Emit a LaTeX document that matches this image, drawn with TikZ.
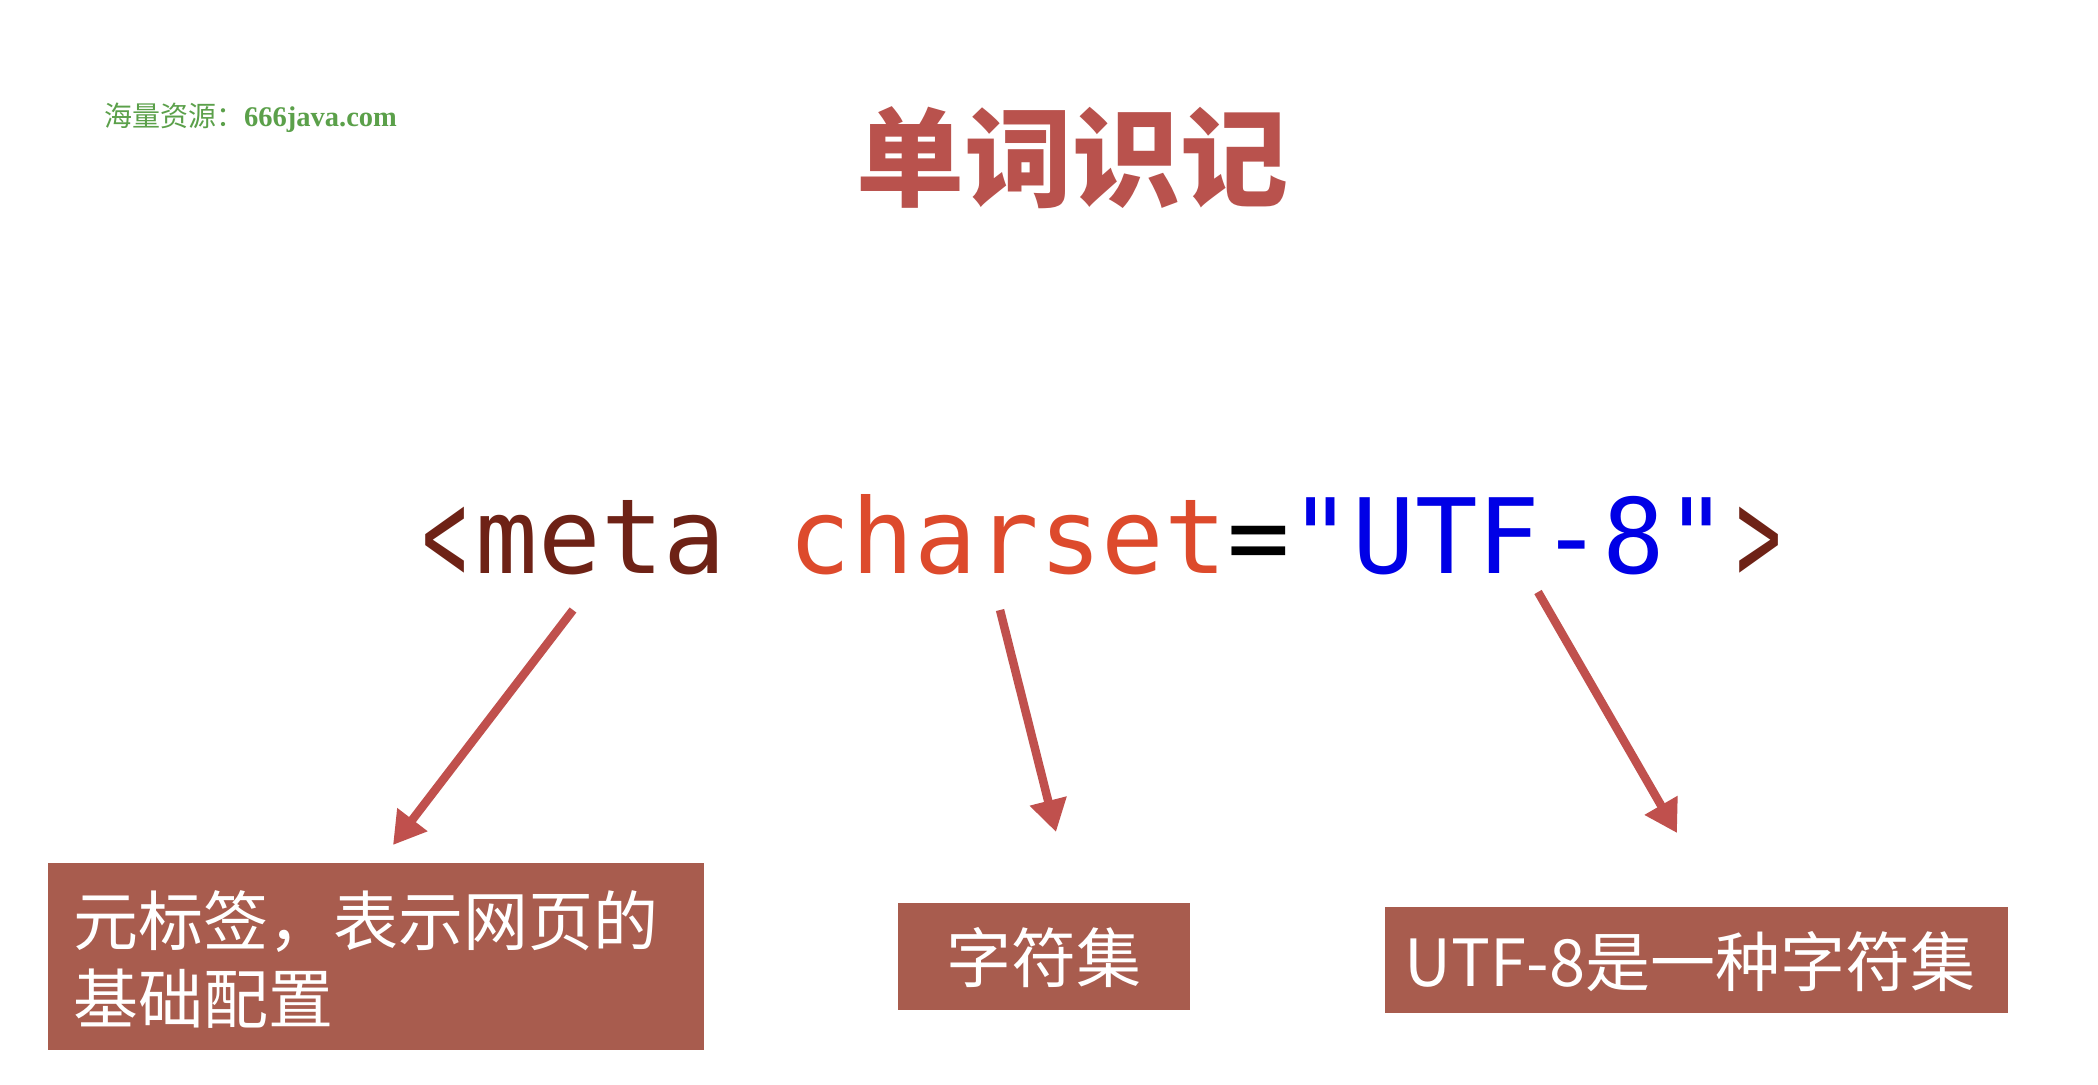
\documentclass[tikz,border=0pt]{standalone}
\usepackage{fontspec}
\usepackage{graphicx}
\usetikzlibrary{arrows.meta}
\newfontfamily\cjk{Noto Sans CJK SC}
\newfontfamily\codefont[Ligatures=TeXOff]{DejaVu Sans Mono}
\newfontfamily\wmfont{Liberation Serif}
\definecolor{accent}{HTML}{C0504D}
\definecolor{titlec}{HTML}{B9524D}
\definecolor{boxfill}{HTML}{A85C4E}
\definecolor{metac}{HTML}{6E2216}
\definecolor{charc}{HTML}{DD4A2C}
\definecolor{utfc}{HTML}{0000E6}
\definecolor{wm}{HTML}{5BA04A}
\newcommand{\chev}[1]{\makebox[0.602em]{\raisebox{-0.09em}{\scalebox{0.72}[1.3]{#1}}}}
\tikzset{
  pointer/.style={draw=accent, line width=8.5pt, -{Triangle[length=32pt,width=36pt]}},
  box/.style={fill=boxfill, draw=none, inner sep=0pt, anchor=north west},
  boxtext/.style={text=white, inner sep=0pt, font=\cjk\fontsize{65}{78}\selectfont},
}
\begin{document}
\begin{tikzpicture}[x=1pt,y=-1pt]
\useasboundingbox (0,0) rectangle (2098,1084);
\fill[white] (0,0) rectangle (2098,1084);

% watermark
\node[anchor=base west, inner sep=0pt, text=wm] (wm) at (104,126)
  {\cjk\fontsize{28}{30}\selectfont 海量资源：\wmfont\bfseries\fontsize{28.5}{30}\selectfont 666java.com};

% title
\node[anchor=base, inner sep=0pt, text=titlec] (title) at (1072,198)
  {\cjk\bfseries\fontsize{108}{120}\selectfont 单词识记};

% code line
\node[anchor=base, inner sep=0pt] (code) at (1102,573)
  {\codefont\fontsize{104}{120}\selectfont\textcolor{metac}{\chev{<}meta} \textcolor{charc}{charset}=\textcolor{utfc}{"UTF-8"}\textcolor{metac}{\chev{>}}};

% boxes
\node[box, minimum width=656pt, minimum height=187pt] (b1) at (48,863) {};
\node[boxtext, anchor=base west] (t1a) at (73,945) {元标签，表示网页的};
\node[boxtext, anchor=base west] (t1b) at (73,1023) {基础配置};

\node[box, minimum width=292pt, minimum height=107pt] (b2) at (898,903) {};
\node[boxtext, anchor=base] (t2) at (1044,982) {字符集};

\node[box, minimum width=623pt, minimum height=106pt] (b3) at (1385,907) {};
\node[boxtext, anchor=base] (t3) at (1690,986) {UTF-8是一种字符集};

% arrows
\coordinate (a1s) at (573,610);
\coordinate (a1e) at (393,845);
\coordinate (a2s) at (1000,610);
\coordinate (a2e) at (1056,832);
\coordinate (a3s) at (1538,592);
\coordinate (a3e) at (1677,833);
\draw[pointer] (a1s) -- (a1e);
\draw[pointer] (a2s) -- (a2e);
\draw[pointer] (a3s) -- (a3e);
\end{tikzpicture}
\end{document}
